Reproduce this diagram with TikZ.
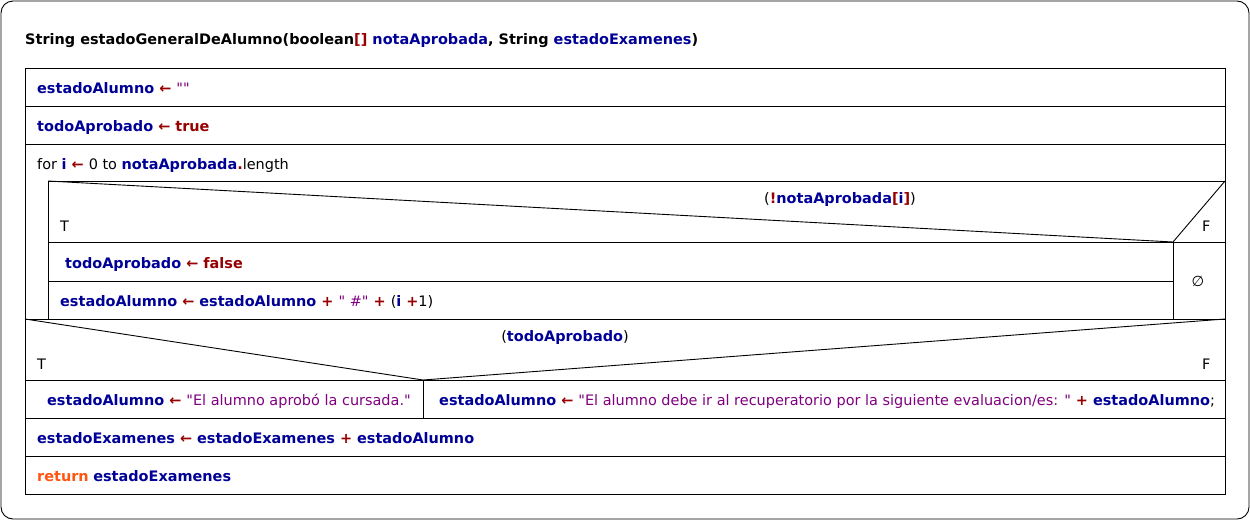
\documentclass[tikz,border=0pt]{standalone}
\usepackage{fontspec}
\setmainfont{DejaVu Sans}[Ligatures=TeXOff]
\definecolor{vb}{RGB}{0,0,150}
\definecolor{opr}{RGB}{150,0,0}
\definecolor{strp}{RGB}{128,0,128}
\definecolor{kwo}{RGB}{255,85,17}
\newcommand\V[1]{\textcolor{vb}{\bfseries #1}}
\newcommand\Op[1]{\textcolor{opr}{\bfseries #1}}
\newcommand\Str[1]{\textcolor{strp}{#1}}
\newcommand\Kw[1]{\textcolor{kwo}{\bfseries #1}}
\newcommand\As{\Op{ ← }}
\begin{document}
\begin{tikzpicture}[x=1pt,y=-1pt,
  ln/.style={line width=0.9pt},
  txt/.style={anchor=base west, inner sep=0pt, font=\fontsize{14.45}{16}\selectfont},
  ctxt/.style={anchor=base, inner sep=0pt, font=\fontsize{14.45}{16}\selectfont}]
\useasboundingbox (0,0) rectangle (1250,520);
\draw[ln, rounded corners=12pt] (1,1) rectangle (1249,519);
% main frame
\draw[ln] (25,68) rectangle (1225,494);
\draw[ln] (25,106) -- (1225,106);
\draw[ln] (25,144) -- (1225,144);
% for loop body
\draw[ln] (48,181) -- (1225,181);
\draw[ln] (48,181) -- (48,319);
% inner if
\draw[ln] (48,181) -- (1173,242) -- (1225,181);
\draw[ln] (48,242) -- (1225,242);
\draw[ln] (48,281) -- (1173,281);
\draw[ln] (1173,242) -- (1173,319);
% outer if
\draw[ln] (25,319) -- (1225,319);
\draw[ln] (25,319) -- (423,380) -- (1225,319);
\draw[ln] (25,380) -- (1225,380);
\draw[ln] (423,380) -- (423,418);
\draw[ln] (25,418) -- (1225,418);
\draw[ln] (25,456) -- (1225,456);
% texts
\node[txt] (title) at (25,44) {\bfseries String estadoGeneralDeAlumno(boolean\Op{[]} \V{notaAprobada}, String \V{estadoExamenes})};
\node[txt] (s1) at (37,93) {\V{estadoAlumno}\As\Str{""}};
\node[txt] (s2) at (37,131) {\V{todoAprobado}\As\Op{true}};
\node[txt] (for) at (37,169) {for \V{i}\As 0 to \V{notaAprobada}\Op{.}length};
\node[ctxt] (c1) at (840,203) {(\Op{!}\V{notaAprobada}\Op{[}\V{i}\Op{]})};
\node[txt] (t1) at (60,231) {T};
\node[txt] (f1) at (1202,231) {F};
\node[txt] (s3) at (65,268) {\V{todoAprobado}\As\Op{false}};
\node[txt] (s4) at (60,306) {\V{estadoAlumno}\As\V{estadoAlumno}\Op{ + }\Str{" \#"}\Op{ + }(\V{i}\Op{ +}1)};
\node[inner sep=0pt, font=\fontsize{14.45}{16}\selectfont] (empty) at (1198,281) {∅};
\node[ctxt] (c2) at (565,341) {(\V{todoAprobado})};
\node[txt] (t2) at (37,369) {T};
\node[txt] (f2) at (1202,369) {F};
\node[txt] (s5) at (47,405) {\V{estadoAlumno}\As\Str{"El alumno aprobó la cursada."}};
\node[txt] (s6) at (439,405) {\V{estadoAlumno}\As\Str{"El alumno debe ir al recuperatorio por la siguiente evaluacion/es: "}\Op{ + }\V{estadoAlumno};};
\node[txt] (s7) at (37,443) {\V{estadoExamenes}\As\V{estadoExamenes}\Op{ + }\V{estadoAlumno}};
\node[txt] (s8) at (37,481) {\Kw{return} \V{estadoExamenes}};
\end{tikzpicture}
\end{document}
